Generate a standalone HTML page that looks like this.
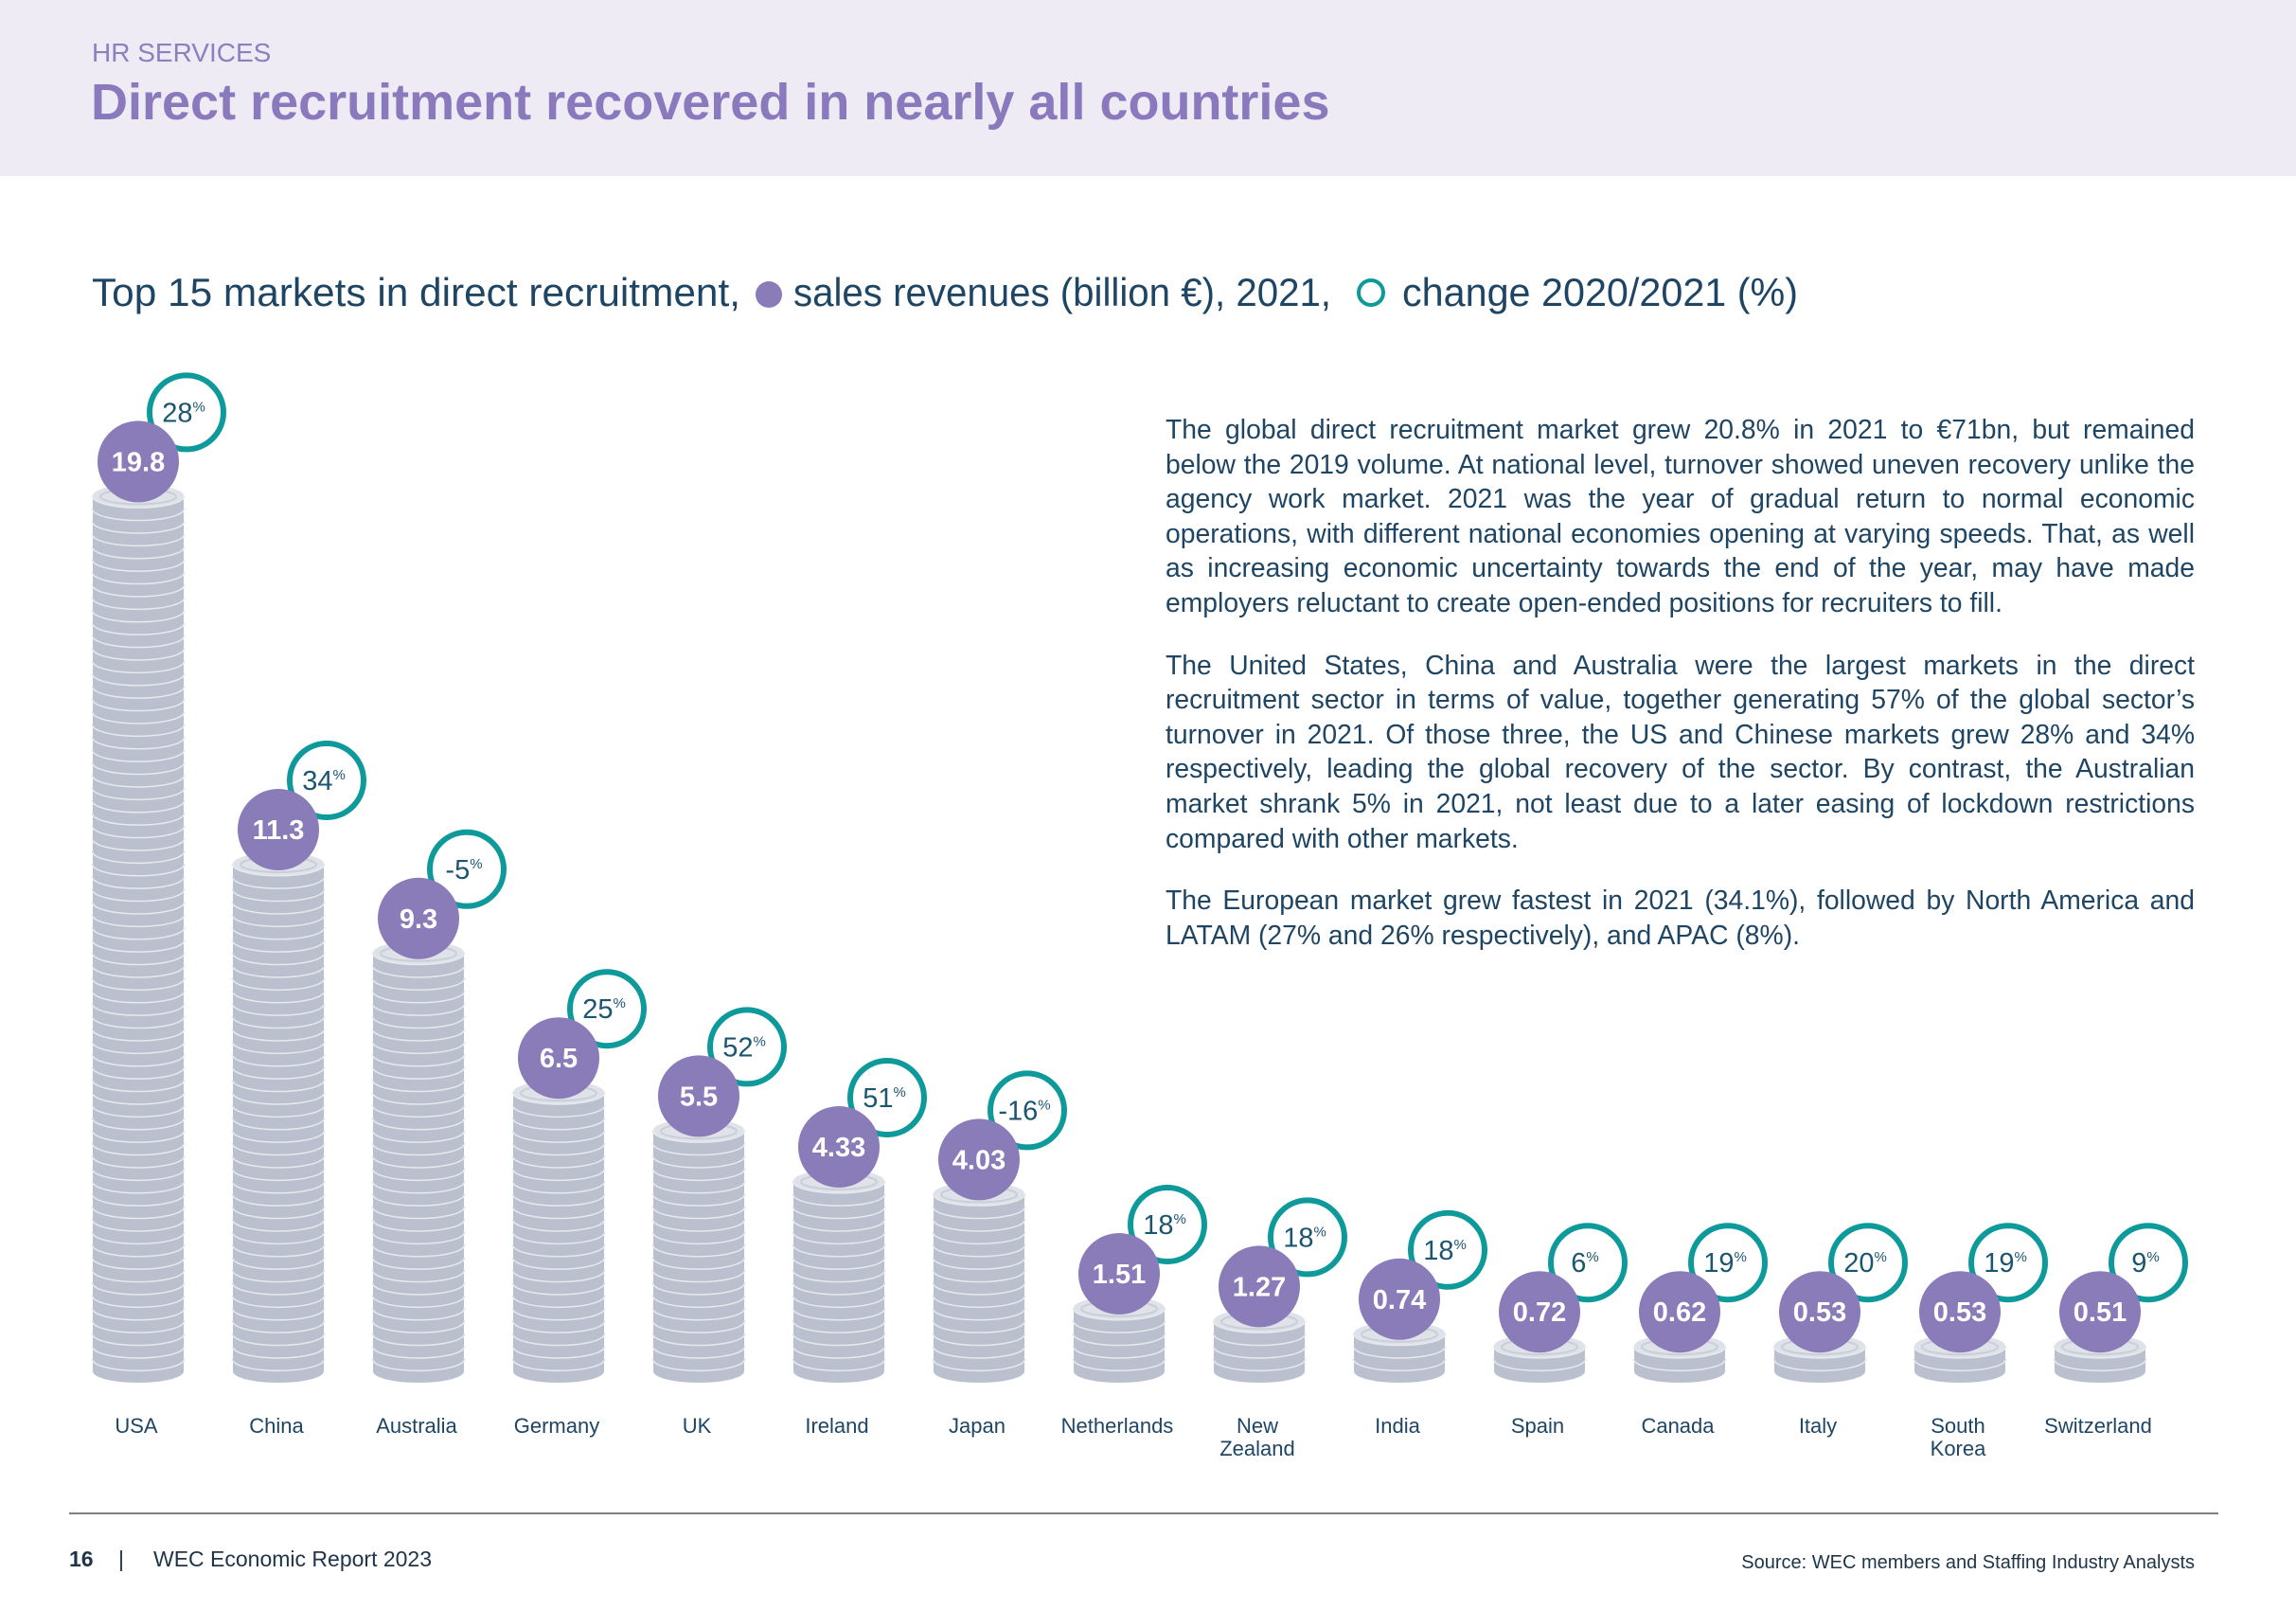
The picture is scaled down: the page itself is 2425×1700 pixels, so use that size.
<!DOCTYPE html>
<html><head><meta charset="utf-8">
<style>
body{margin:0;width:2425px;height:1700px;background:#fff;overflow:hidden;font-family:"Liberation Sans",sans-serif;}
#wrap{position:relative;width:2425px;height:1700px;}
#hdr{position:absolute;left:0;top:0;width:2425px;height:186px;background:#eeebf5;}
#txt{position:absolute;left:1231px;top:435px;width:1087px;font-size:28.3px;line-height:36.6px;color:#1e4563;text-align:justify;}
#txt p{margin:0 0 29px 0;}
svg{position:absolute;left:0;top:0;}
</style></head><body><div id="wrap">
<div id="hdr"></div>
<div id="txt">
<p>The global direct recruitment market grew 20.8% in 2021 to €71bn, but remained below the 2019 volume. At national level, turnover showed uneven recovery unlike the agency work market. 2021 was the year of gradual return to normal economic operations, with different national economies opening at varying speeds. That, as well as increasing economic uncertainty towards the end of the year, may have made employers reluctant to create open-ended positions for recruiters to fill.</p>
<p>The United States, China and Australia were the largest markets in the direct recruitment sector in terms of value, together generating 57% of the global sector’s turnover in 2021. Of those three, the US and Chinese markets grew 28% and 34% respectively, leading the global recovery of the sector. By contrast, the Australian market shrank 5% in 2021, not least due to a later easing of lockdown restrictions compared with other markets.</p>
<p>The European market grew fastest in 2021 (34.1%), followed by North America and LATAM (27% and 26% respectively), and APAC (8%).</p>
</div>
<svg id="s" width="2425" height="1700" xmlns="http://www.w3.org/2000/svg">
<text x="97" y="65" font-size="28" fill="#8c80bf">HR SERVICES</text>
<text x="96" y="126" font-size="54" font-weight="bold" fill="#8a79bd">Direct recruitment recovered in nearly all countries</text>
<text x="97" y="323" font-size="42" fill="#1e4563" textLength="685" lengthAdjust="spacingAndGlyphs">Top 15 markets in direct recruitment,</text>
<circle cx="812" cy="311" r="14" fill="#8a7bb9"/>
<text x="838" y="323" font-size="42" fill="#1e4563" textLength="568" lengthAdjust="spacingAndGlyphs">sales revenues (billion €), 2021,</text>
<circle cx="1448" cy="309" r="13" fill="none" stroke="#0e9a9a" stroke-width="4"/>
<text x="1481" y="323" font-size="42" fill="#1e4563" textLength="418" lengthAdjust="spacingAndGlyphs">change 2020/2021 (%)</text>
<line x1="73" y1="1598" x2="2343" y2="1598" stroke="#555" stroke-width="1.5"/>
<text x="73" y="1654" font-size="23" fill="#1e3448" font-weight="bold">16</text>
<text x="125" y="1654" font-size="23" fill="#1e3448">|</text>
<text x="162" y="1654" font-size="23" fill="#1e3448">WEC Economic Report 2023</text>
<text x="2318" y="1656" font-size="20" fill="#1e3448" text-anchor="end">Source: WEC members and Staffing Industry Analysts</text>
<g id="g"></g>
</svg>
<script>
var d=[["USA","19.8","28",335],["China","11.3","34",593],["Australia","9.3","-5",652],["Germany","6.5","25",745],["UK","5.5","52",770],["Ireland","4.33","51",805],["Japan","4.03","-16",815],["Netherlands","1.51","18",889],["New|Zealand","1.27","18",900],["India","0.74","18",912],["Spain","0.72","6",922],["Canada","0.62","19",926],["Italy","0.53","20",926],["South|Korea","0.53","19",926],["Switzerland","0.51","9",926]];
var s=2425/1568,h='',B=1448,W=48,R=12,C=13.4;
d.forEach(function(r,i){
 var cx=146+i*148,top=r[3]*s,n=Math.max(2,Math.round((B-top)/C));
 var tY=B-n*C;
 for(var k=0;k<n;k++){
  var yb=B-k*C, yt=yb-C;
  h+='<path d="M'+(cx-W)+' '+yt+' L'+(cx-W)+' '+yb+' A'+W+' '+R+' 0 0 0 '+(cx+W)+' '+yb+' L'+(cx+W)+' '+yt+' Z" fill="#bac0cd"/>';
  h+='<path d="M'+(cx-W)+' '+yt+' A'+W+' '+R+' 0 0 0 '+(cx+W)+' '+yt+'" fill="none" stroke="#e6e9ee" stroke-width="3"/>';
 }
 h+='<ellipse cx="'+cx+'" cy="'+tY+'" rx="'+W+'" ry="'+R+'" fill="#dfe2e8"/>';
 h+='<ellipse cx="'+cx+'" cy="'+(tY+1)+'" rx="'+(W-8)+'" ry="'+(R-4)+'" fill="none" stroke="#c9ced8" stroke-width="2"/>';
 var py=tY-36;
 h+='<circle cx="'+(cx+51)+'" cy="'+(py-52)+'" r="39" fill="#fff" stroke="#0e9a9a" stroke-width="6"/>';
 h+='<text x="'+(cx+48)+'" y="'+(py-42)+'" font-size="29" fill="#1b5570" text-anchor="middle">'+r[2]+'<tspan font-size="15" dy="-11">%</tspan></text>';
 h+='<circle cx="'+cx+'" cy="'+py+'" r="43" fill="#8a7bb9"/>';
 h+='<text x="'+cx+'" y="'+(py+10)+'" font-size="29" font-weight="bold" fill="#fff" text-anchor="middle">'+r[1]+'</text>';
 var L=r[0].split('|');
 L.forEach(function(t,j){h+='<text x="'+(cx-2)+'" y="'+(1513+j*24)+'" font-size="22" fill="#1e4563" text-anchor="middle">'+t+'</text>';});
});
document.getElementById('g').innerHTML=h;
</script>
</div></body></html>
